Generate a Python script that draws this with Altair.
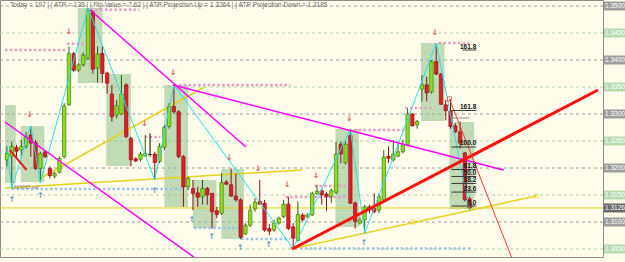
import altair as alt
import pandas as pd

# ---------------- candle data (bar index 0..97) ----------------
opens = [1.3215, 1.3222, 1.3238, 1.3233, 1.3240, 1.3261, 1.3247, 1.3199, 1.3230, 1.3199,
         1.3185, 1.3192, 1.3221, 1.3317, 1.3412, 1.3381, 1.3391, 1.3403, 1.3489, 1.3385,
         1.3412, 1.3376, 1.3337, 1.3298, 1.3300, 1.3354, 1.3255, 1.3217, 1.3216, 1.3222,
         1.3225, 1.3226, 1.3212, 1.3238, 1.3277, 1.3314, 1.3304, 1.3221, 1.3165, 1.3162,
         1.3154, 1.3147, 1.3162, 1.3153, 1.3121, 1.3116, 1.3174, 1.3169, 1.3148, 1.3141,
         1.3078, 1.3094, 1.3124, 1.3138, 1.3135, 1.3088, 1.3085, 1.3098, 1.3110, 1.3133,
         1.3091, 1.3066, 1.3113, 1.3109, 1.3113, 1.3153, 1.3158, 1.3152, 1.3147, 1.3155,
         1.3244, 1.3210, 1.3260, 1.3135, 1.3098, 1.3104, 1.3128, 1.3125, 1.3122, 1.3141,
         1.3222, 1.3215, 1.3222, 1.3230, 1.3243, 1.3300, 1.3280, 1.3346, 1.3354, 1.3341,
         1.3397, 1.3374, 1.3317, 1.3306, 1.3278, 1.3267, 1.3228, 1.3143]
highs = [1.3240, 1.3249, 1.3243, 1.3252, 1.3267, 1.3278, 1.3252, 1.3230, 1.3233, 1.3203,
         1.3193, 1.3221, 1.3320, 1.3425, 1.3415, 1.3394, 1.3414, 1.3496, 1.3492, 1.3425,
         1.3425, 1.3378, 1.3354, 1.3326, 1.3372, 1.3357, 1.3258, 1.3220, 1.3230, 1.3261,
         1.3264, 1.3230, 1.3246, 1.3280, 1.3320, 1.3354, 1.3307, 1.3224, 1.3184, 1.3178,
         1.3165, 1.3178, 1.3165, 1.3154, 1.3128, 1.3190, 1.3178, 1.3199, 1.3190, 1.3144,
         1.3098, 1.3132, 1.3144, 1.3178, 1.3141, 1.3096, 1.3104, 1.3110, 1.3141, 1.3147,
         1.3098, 1.3138, 1.3116, 1.3116, 1.3156, 1.3169, 1.3162, 1.3156, 1.3162, 1.3248,
         1.3249, 1.3249, 1.3272, 1.3138, 1.3110, 1.3132, 1.3132, 1.3153, 1.3153, 1.3233,
         1.3240, 1.3252, 1.3246, 1.3252, 1.3310, 1.3302, 1.3289, 1.3372, 1.3369, 1.3400,
         1.3431, 1.3376, 1.3326, 1.3327, 1.3283, 1.3286, 1.3230, 1.3147]
lows = [1.3203, 1.3162, 1.3221, 1.3221, 1.3236, 1.3221, 1.3196, 1.3173, 1.3218, 1.3181,
        1.3181, 1.3190, 1.3218, 1.3315, 1.3378, 1.3378, 1.3388, 1.3400, 1.3375, 1.3358,
        1.3357, 1.3338, 1.3286, 1.3292, 1.3298, 1.3255, 1.3203, 1.3211, 1.3212, 1.3221,
        1.3221, 1.3178, 1.3209, 1.3233, 1.3273, 1.3301, 1.3218, 1.3128, 1.3159, 1.3122,
        1.3128, 1.3132, 1.3132, 1.3088, 1.3107, 1.3113, 1.3169, 1.3147, 1.3138, 1.3068,
        1.3076, 1.3091, 1.3119, 1.3132, 1.3082, 1.3076, 1.3082, 1.3095, 1.3107, 1.3085,
        1.3051, 1.3064, 1.3101, 1.3107, 1.3111, 1.3150, 1.3132, 1.3121, 1.3135, 1.3152,
        1.3209, 1.3206, 1.3133, 1.3088, 1.3095, 1.3079, 1.3116, 1.3116, 1.3116, 1.3138,
        1.3209, 1.3212, 1.3220, 1.3227, 1.3240, 1.3277, 1.3273, 1.3323, 1.3323, 1.3338,
        1.3372, 1.3317, 1.3288, 1.3273, 1.3265, 1.3236, 1.3138, 1.3122]
closes = [1.3227, 1.3240, 1.3231, 1.3240, 1.3258, 1.3246, 1.3199, 1.3227, 1.3221, 1.3186,
          1.3190, 1.3218, 1.3315, 1.3412, 1.3381, 1.3391, 1.3409, 1.3492, 1.3383, 1.3411,
          1.3375, 1.3357, 1.3295, 1.3316, 1.3337, 1.3258, 1.3215, 1.3213, 1.3226, 1.3227,
          1.3225, 1.3210, 1.3240, 1.3275, 1.3314, 1.3304, 1.3221, 1.3165, 1.3181, 1.3153,
          1.3146, 1.3162, 1.3150, 1.3119, 1.3114, 1.3173, 1.3170, 1.3148, 1.3141, 1.3072,
          1.3094, 1.3122, 1.3137, 1.3133, 1.3085, 1.3083, 1.3098, 1.3107, 1.3133, 1.3088,
          1.3070, 1.3114, 1.3104, 1.3113, 1.3153, 1.3157, 1.3150, 1.3147, 1.3158, 1.3226,
          1.3226, 1.3244, 1.3135, 1.3101, 1.3104, 1.3128, 1.3122, 1.3119, 1.3147, 1.3220,
          1.3218, 1.3226, 1.3230, 1.3243, 1.3300, 1.3278, 1.3286, 1.3354, 1.3339, 1.3397,
          1.3374, 1.3318, 1.3306, 1.3277, 1.3267, 1.3246, 1.3141, 1.3126]

# ---------------- zigzag ----------------
zz_bar = [0, 1, 5, 7, 17, 31, 35, 60, 72, 75, 90, 97]
zz_price = [1.3240, 1.3162, 1.3278, 1.3173, 1.3496, 1.3178, 1.3354, 1.3051, 1.3272, 1.3079, 1.3431, 1.3122]

# ---------------- trend lines (bar, price endpoints) ----------------
mag_b1 = [-0.41, 17.46, 34.85]
mag_p1 = [1.32852, 1.34926, 1.33537]
mag_b2 = [39.18, 50.10, 104.12]
mag_p2 = [1.30352, 1.32389, 1.31963]

yel_b1 = [-0.41, 6.39, 59.60]
yel_p1 = [1.31630, 1.31778, 1.30500]
yel_b2 = [61.86, 41.44, 110.93]
yel_p2 = [1.31963, 1.33500, 1.31481]
yel_marks_bar = [85.15, 110.93]
yel_marks_price = [1.31000, 1.31481]

red_thick_b = [59.80, 123.92]
red_thick_p = [1.30500, 1.33444]
red_short_b = [0.62, 4.12]
red_short_p = [1.32333, 1.31963]
red_thin_b = [92.78, 105.77]
red_thin_p = [1.33278, 1.30352]

current_price = 1.3126

# ---------------- zones ----------------
zone_b1 = [-0.41, 2.89, 14.85, 20.82, 32.99, 38.97, 44.95, 68.87, 86.80, 92.78]
zone_b2 = [1.86, 7.84, 20.00, 25.98, 37.94, 43.92, 49.69, 73.81, 91.75, 97.94]
zone_p1 = [1.33167, 1.32778, 1.34963, 1.33741, 1.33537, 1.31778, 1.31981, 1.32722, 1.34315, 1.32852]
zone_p2 = [1.31722, 1.31741, 1.33574, 1.32037, 1.31278, 1.30889, 1.30685, 1.30907, 1.32870, 1.31241]

# ---------------- dotted levels ----------------
pink_b1 = [17.5, -0.41, 12.6, 35.05, 90.5, 83.5, 71.75, 28.9, 58.4, 64.5]
pink_b2 = [27.8, 12.4, 16.1, 59.4, 96.9, 88.9, 84.1, 32.2, 71.1, 71.1]
pink_p = [1.34930, 1.34185, 1.34300, 1.33537, 1.34315, 1.33111, 1.32704, 1.32574, 1.31463, 1.31667]

blue_b1 = [1.0, 39.2, 49.1, 59.4]
blue_b2 = [36.7, 48.5, 59.4, 97.5]
blue_p = [1.31611, 1.30889, 1.30685, 1.30510]

# ---------------- fractal arrows ----------------
dn_bar = [12.99, 4.74, 28.87, 34.85, 46.6, 52.58, 58.76, 64.74, 71.75, 89.69]
dn_price = [1.34519, 1.32981, 1.32815, 1.33759, 1.32185, 1.31981, 1.31685, 1.31852, 1.32907, 1.34500]
up_bar = [1.03, 7.01, 30.93, 38.76, 42.89, 48.87, 54.85, 74.85]
up_price = [1.31407, 1.31490, 1.31574, 1.31037, 1.30722, 1.30519, 1.30574, 1.30611]

# ---------------- fibonacci ----------------
fib_text = ["161.8", "161.8", "100.0", "61.8", "50.0", "38.2", "23.6", "0.0"]
fib_price = [1.34185, 1.33065, 1.32389, 1.31971, 1.31843, 1.31714, 1.31554, 1.31296]
fib_b1 = [95.5, 93.2, 93.2, 93.2, 93.2, 93.2, 93.2, 93.2]
fib_b2 = [98.4, 98.4, 98.4, 98.4, 98.4, 98.4, 98.4, 98.4]
fib_extra_b = [93.0, 96.9]
fib_extra_p = [1.32926, 1.32926]

# ---------------- text ----------------
header_parts = ["Today = 197", "ATR = 138", "Pip Value = 7.62",
                "ATR Projection Up = 1.3264", "ATR Projection Down = 1.3185"]
header_bar = 0.62
header_price = 1.3502
sell_text = "666665 sell"
sell_bar = 1.40
sell_price = 1.31650

# ---------------- axis ----------------
axis_ticks = [1.3510, 1.3470, 1.3430, 1.3390, 1.3355, 1.3315, 1.3280, 1.3240, 1.3205,
              1.3165, 1.3125, 1.3085, 1.3045]
grid_major = [1.35, 1.34, 1.33, 1.32, 1.31]
grid_minor = [1.345, 1.335, 1.325, 1.315, 1.305]

FONT = "Liberation Sans"
XS = alt.Scale(domain=[-0.41, 123.92], nice=False, zero=False)
YS = alt.Scale(domain=[1.30352, 1.351111], nice=False, zero=False)


def X(f):
    return alt.X(f + ":Q", scale=XS, axis=None)


def Y(f, axis=None):
    return alt.Y(f + ":Q", scale=YS, axis=axis)


def seg_layer(b1, p1, b2, p2, **mk):
    d = pd.DataFrame({"b1": b1, "p1": p1, "b2": b2, "p2": p2})
    return alt.Chart(d).mark_rule(clip=True, **mk).encode(
        x=X("b1"), x2=alt.X2("b2"), y=Y("p1"), y2=alt.Y2("p2"))


candles = pd.DataFrame({"bar": list(range(len(opens))), "open": opens, "high": highs,
                        "low": lows, "close": closes})
candles["lo"] = candles[["open", "close"]].min(axis=1)
candles["hi"] = candles[["open", "close"]].max(axis=1)
candles["dir"] = ["up" if c > o else ("down" if c < o else "flat") for o, c in zip(opens, closes)]

yaxis = alt.Axis(orient="right", values=axis_ticks, format=".4f", labelFontSize=6.5,
                 labelFont=FONT, labelColor="#333333", tickSize=3, tickColor="#777777",
                 domainColor="#888888", labelPadding=1, grid=False, title=None,
                 labelOverlap=False, labelFlush=False)

grid1 = alt.Chart(pd.DataFrame({"p": grid_major})).mark_rule(
    color="#9C9C9C", strokeDash=[3, 3], strokeWidth=1).encode(y=Y("p"))
grid2 = alt.Chart(pd.DataFrame({"p": grid_minor})).mark_rule(
    color="#A9D3A9", strokeDash=[3, 3], strokeWidth=1).encode(y=Y("p"))

zones = alt.Chart(pd.DataFrame({"b1": zone_b1, "b2": zone_b2, "p1": zone_p1, "p2": zone_p2})).mark_rect(
    fill="#8DBF8A", opacity=0.55, clip=True).encode(x=X("b1"), x2=alt.X2("b2"), y=Y("p1"), y2=alt.Y2("p2"))

pink = seg_layer(pink_b1, pink_p, pink_b2, pink_p, color="#E89CC8", strokeWidth=2.5,
                 strokeDash=[2.5, 2.3])
blue = seg_layer(blue_b1, blue_p, blue_b2, blue_p, color="#9DC3EA", strokeWidth=2.5,
                 strokeDash=[2.5, 2.3])

cur = alt.Chart(pd.DataFrame({"p": [current_price]})).mark_rule(
    color="#E2D21C", strokeWidth=1).encode(y=Y("p"))
yellow = seg_layer(yel_b1, yel_p1, yel_b2, yel_p2, color="#E6D21E", strokeWidth=1.5)
yel_pts = alt.Chart(pd.DataFrame({"b": yel_marks_bar, "p": yel_marks_price})).mark_point(
    shape="square", filled=False, size=16, color="#E6D21E", strokeWidth=1).encode(x=X("b"), y=Y("p"))

wick_col = {"up": "#2F5A10", "down": "#8E1010", "flat": "#000000"}
fill_col = {"up": "#86E01C", "down": "#E01E2A", "flat": "#000000"}
edge_col = {"up": "#3A6A08", "down": "#8A0E0E", "flat": "#000000"}
candle_layers = []
for k in ["up", "down", "flat"]:
    base = alt.Chart(candles).transform_filter(alt.datum.dir == k)
    wick = base.mark_rule(color=wick_col[k], strokeWidth=1).encode(
        x=X("bar"), y=Y("low", yaxis if k == "up" else None), y2=alt.Y2("high"))
    body = base.mark_bar(size=3.4, fill=fill_col[k], stroke=edge_col[k], strokeWidth=0.6).encode(
        x=X("bar"), y=Y("lo"), y2=alt.Y2("hi"))
    candle_layers += [wick, body]

zig = alt.Chart(pd.DataFrame({"b": zz_bar, "p": zz_price})).mark_line(
    color="#20E2F0", strokeWidth=1, clip=True).encode(x=X("b"), y=Y("p"), order="b:Q")

magenta = seg_layer(mag_b1, mag_p1, mag_b2, mag_p2, color="#FF00FF", strokeWidth=1.5)
red_thick = seg_layer([red_thick_b[0]], [red_thick_p[0]], [red_thick_b[1]], [red_thick_p[1]],
                      color="#FF0F0F", strokeWidth=3)
red_short = seg_layer([red_short_b[0]], [red_short_p[0]], [red_short_b[1]], [red_short_p[1]],
                      color="#E02020", strokeWidth=2)
red_thin = seg_layer([red_thin_b[0]], [red_thin_p[0]], [red_thin_b[1]], [red_thin_p[1]],
                     color="#FF3535", strokeWidth=1)
red_pt = alt.Chart(pd.DataFrame({"b": [red_thin_b[0]], "p": [red_thin_p[0]]})).mark_point(
    shape="square", filled=False, size=18, color="#FF3535", strokeWidth=1).encode(x=X("b"), y=Y("p"))

arr_dn = alt.Chart(pd.DataFrame({"b": dn_bar, "p": dn_price})).mark_text(
    text="↓", font="DejaVu Sans", fontSize=8, fontWeight="bold", color="#E0604C",
    baseline="middle").encode(x=X("b"), y=Y("p"))
arr_up = alt.Chart(pd.DataFrame({"b": up_bar, "p": up_price})).mark_text(
    text="↑", font="DejaVu Sans", fontSize=8, fontWeight="bold", color="#5B93CF",
    baseline="middle").encode(x=X("b"), y=Y("p"))

fib_lines = seg_layer(fib_b1, fib_price, fib_b2, fib_price, color="#3A3A3A", strokeWidth=1)
fib_extra = seg_layer([fib_extra_b[0]], [fib_extra_p[0]], [fib_extra_b[1]], [fib_extra_p[1]],
                      color="#8A8A8A", strokeWidth=1)
fib_lbl = alt.Chart(pd.DataFrame({"t": fib_text, "p": fib_price, "b": fib_b2})).mark_text(
    align="right", baseline="bottom", dy=-0.5, font=FONT, fontSize=6.5, fontWeight="bold",
    color="#111111").encode(x=X("b"), y=Y("p"), text="t:N")

header = alt.Chart(pd.DataFrame({"t": [" | | ".join(header_parts)], "b": [header_bar],
                                 "p": [header_price]})).mark_text(
    align="left", baseline="middle", font=FONT, fontSize=6.5, color="#6A6A6A").encode(
    x=X("b"), y=Y("p"), text="t:N")

sell = alt.Chart(pd.DataFrame({"t": [sell_text], "b": [sell_bar], "p": [sell_price]})).mark_text(
    align="left", baseline="middle", font=FONT, fontSize=5, color="#8A8A8A").encode(
    x=X("b"), y=Y("p"), text="t:N")

box_df = pd.DataFrame({
    "p": grid_major + grid_minor + [current_price],
    "kind": ["major"] * len(grid_major) + ["minor"] * len(grid_minor) + ["current"],
})
axis_boxes = alt.Chart(box_df).mark_rect(yOffset=-4.5, y2Offset=4.5).encode(
    x=alt.value(604), x2=alt.value(625), y=Y("p"), y2=alt.Y2("p"),
    color=alt.Color("kind:N", scale=alt.Scale(domain=["major", "minor", "current"],
                                              range=["#9E9E9E", "#B6DAB4", "#6A6A6A"]),
                    legend=None))
axis_box_txt = alt.Chart(box_df).mark_text(
    align="left", baseline="middle", font=FONT, fontSize=6.5, color="white").encode(
    x=alt.value(605), y=Y("p"), text=alt.Text("p:Q", format=".4f"))

chart = alt.layer(
    grid1, grid2, zones, pink, blue, cur, yellow, yel_pts,
    *candle_layers,
    zig, magenta, red_thick, red_short, red_thin, red_pt,
    arr_dn, arr_up, fib_lines, fib_extra, fib_lbl, header, sell,
    axis_boxes, axis_box_txt,
).properties(
    width=603, height=257,
    autosize=alt.AutoSizeParams(type="none"),
    padding={"left": 0, "top": 0, "right": 22, "bottom": 5},
    background="#FFFCEB",
).configure_view(
    stroke="#8C8C8C", strokeWidth=1, fill="#FFFCEB"
)

chart.save("out.html", embed_options={"renderer": "svg", "actions": False})
